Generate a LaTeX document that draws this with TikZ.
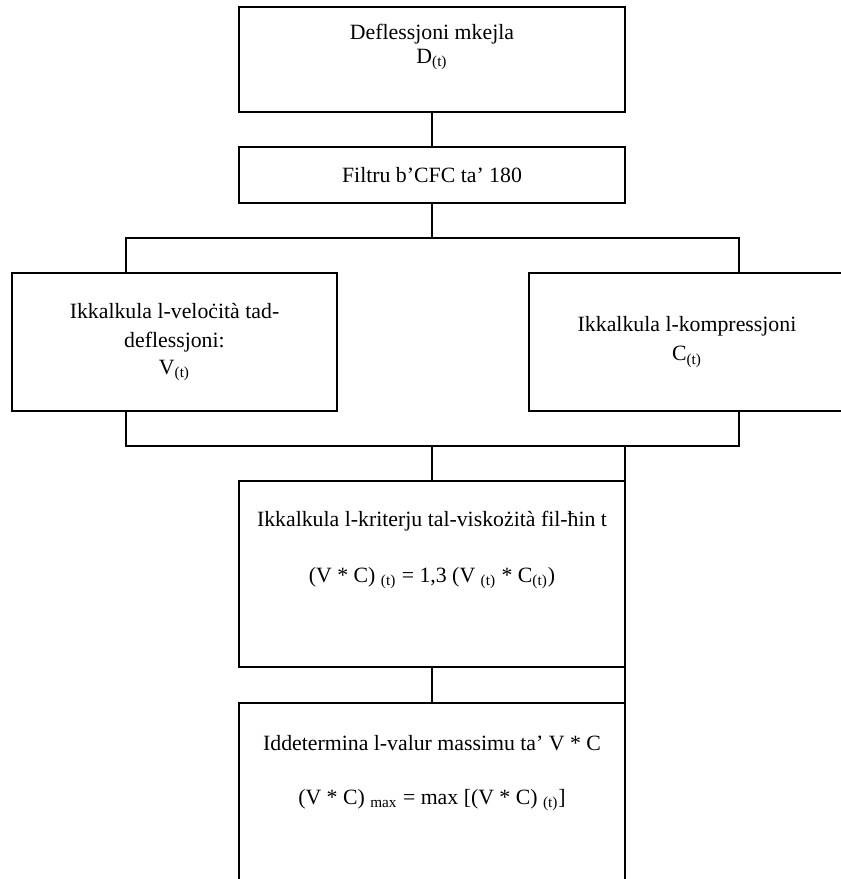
\documentclass[tikz,border=0pt]{standalone}
\usepackage{fontspec}
\setmainfont{Liberation Serif}
\usetikzlibrary{calc}
\begin{document}
\begin{tikzpicture}[x=0.5pt,y=-0.5pt]
	\tikzset{flow box/.style={draw,rectangle,inner sep=0pt,outer sep=0pt,line width=0.7pt,minimum width=#1},
		box text/.style={align=center,inner sep=0pt,font=\fontsize{10.9}{14.5}\selectfont},
		flow line/.style={line width=0.7pt}}
	\useasboundingbox (0,0) rectangle (841,879);
	
	\node [flow box=193pt, minimum height=52.5pt] (defl) at (432,59.5) {};
	\node [box text] (deflText) at ([yshift=-20pt]defl.north) {Deflessjoni mkejla\\[-2.5pt]D\textsubscript{(t)}};
	\node [flow box=193pt, minimum height=28pt, box text] (filt) at (432,175) {Filtru b’CFC ta’ 180};
	\node [flow box=162.5pt, minimum height=69pt, box text] (velo) at (174.5,342) {Ikkalkula l-veloċità tad-\\deflessjoni:\\[-0.8pt]V\textsubscript{(t)}};
	\node [flow box=158pt, minimum height=69pt, box text] (komp) at (687,342) {Ikkalkula l-kompressjoni\\C\textsubscript{(t)}};
	\node [flow box=193pt, minimum height=93pt] (visk) at (432,574) {};
	\node [box text] (viskText) at ([yshift=-34.5pt]visk.north) {Ikkalkula l-kriterju tal-viskożità fil-ħin t\\[13.5pt](V * C) \textsubscript{(t)} = 1,3 (V \textsubscript{(t)} * C\textsubscript{(t)})};
	\node [flow box=193pt, minimum height=93pt] (vmax) at (432,796) {};
	\node [box text] (vmaxText) at ([yshift=-35pt]vmax.north) {Iddetermina l-valur massimu ta’ V * C\\[12.5pt](V * C) \textsubscript{max} = max [(V * C) \textsubscript{(t)}]};
	
	\coordinate (splitL) at (126,238);
	\coordinate (splitR) at (739,238);
	\coordinate (joinL) at (126,446);
	\coordinate (joinR) at (739,446);
	
	\draw [flow line] (defl) -- (filt);
	\draw [flow line] (filt) -- (filt |- splitL);
	\draw [flow line] (velo.north -| splitL) -- (splitL) -- (splitR) -- (komp.north -| splitR);
	\draw [flow line] (velo.south -| joinL) -- (joinL) -- (joinR) -- (komp.south -| joinR);
	\draw [flow line] (visk) -- (visk |- joinL);
	\draw [flow line] (visk.north east) -- (visk.north east |- joinL);
	\draw [flow line] (visk) -- (vmax);
	\draw [flow line] (visk.south east) -- (vmax.north east);
\end{tikzpicture}
\end{document}
